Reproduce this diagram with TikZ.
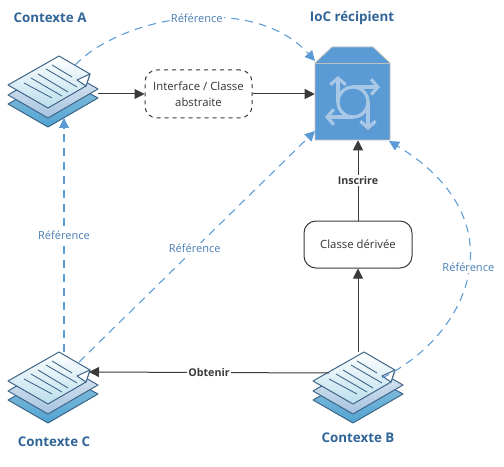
\documentclass[tikz,border=0pt]{standalone}
\usepackage{fontspec}
\setmainfont{Open Sans}
\usetikzlibrary{arrows.meta}
\definecolor{edgeblue}{HTML}{3F6588}
\definecolor{refblue}{HTML}{5B9BD5}
\definecolor{darkline}{HTML}{3A3A3A}
\definecolor{titleblue}{HTML}{2F6496}
\definecolor{reftext}{HTML}{4A7FB5}
\definecolor{iconlight}{HTML}{A9C8E6}
\definecolor{lowA}{HTML}{93C4E0}
\definecolor{lowB}{HTML}{4FA3D1}
\definecolor{midA}{HTML}{E6EEF6}
\definecolor{midB}{HTML}{A6C3DF}
\definecolor{topB}{HTML}{BBDFEC}
\tikzset{
  solidarrow/.style={draw=darkline,line width=0.75pt,-{Triangle[length=7.5pt,width=7.5pt]}},
  refarrow/.style={draw=refblue,line width=0.8pt,dash pattern=on 6pt off 4.5pt,-{Triangle[length=7.5pt,width=7.5pt]}},
  reflabel/.style={font=\fontsize{8.3pt}{10pt}\selectfont,text=reftext,fill=white,inner sep=1pt},
  boldlabel/.style={font=\bfseries\fontsize{8pt}{10pt}\selectfont,text=darkline,fill=white,inner sep=1pt},
  titlelabel/.style={font=\bfseries\fontsize{10pt}{12pt}\selectfont,text=titleblue},
  boxtext/.style={font=\fontsize{8.5pt}{12pt}\selectfont,text=black!80,align=center},
  sheet/.style={draw=edgeblue,line width=0.75pt,line join=round},
  iconline/.style={draw=iconlight,line width=2.4pt,-{Straight Barb[length=5pt,width=11.5pt,line width=2.4pt]}},
  docstack/.pic={
    \path[sheet,top color=lowA,bottom color=lowB]
      (8,104) -- (58,76) -- (98,98) -- (48,127) -- cycle;
    \path[sheet,top color=midA,bottom color=midB]
      (8,95) -- (58,66) -- (98,89) -- (48,118) -- cycle;
    \path[sheet,top color=white,bottom color=topB]
      (8,85) -- (59,56) -- (90,74) -- (86,86) -- (48,108) -- cycle;
    \path[sheet,fill=white] (77,80) -- (90,74) -- (86,86) -- cycle;
    \foreach \a/\b in {{52,65}/{72,77},{46,69}/{77,87},{38,74}/{68,92},{31,78}/{62,96},{24,83}/{52,98}}
      \draw[edgeblue,line width=0.65pt] (\a) -- (\b);
  }
}
\begin{document}
\begin{tikzpicture}[x=0.75pt,y=-0.75pt]
\useasboundingbox (0,0) rectangle (504,467);

% titles
\node[titlelabel] (tA) at (50,18) {Contexte A};
\node[titlelabel] (tI) at (352,18) {IoC récipient};
\node[titlelabel] (tB) at (358,438) {Contexte B};
\node[titlelabel] (tC) at (54,442) {Contexte C};

% context stacks
\pic at (0,0) {docstack};
\pic at (0,296) {docstack};
\pic at (305,296) {docstack};
\coordinate (Ae) at (98,94);
\coordinate (As) at (64,118);
\coordinate (Ad) at (75,65);
\coordinate (Cn) at (64,352);
\coordinate (Cd) at (79,362);
\coordinate (Ce) at (89,372);
\coordinate (Bn) at (358,352);
\coordinate (Bw) at (329,373);
\coordinate (Bd) at (382,378);

% IoC container
\path[fill=refblue,draw=black!25,line width=0.6pt] (315,63) -- (332,47) -- (373,47) -- (390,63) -- (390,140) -- (315,140) -- cycle;
\draw[black!25,line width=0.6pt] (315,63) -- (390,63);
\node[minimum width=56.25pt,minimum height=69.75pt,inner sep=0pt] (ioc) at (352.5,93.5) {};
\draw[iconlight,line width=2.4pt] (353,102) circle[radius=15];
\draw[iconline] (338,102) -- (338,76);
\draw[iconline] (353,87) -- (380,87);
\draw[iconline] (368,102) -- (368,130);
\draw[iconline] (353,117) -- (325,117);

% boxes
\node[draw=darkline,dashed,rounded corners=9pt,line width=0.75pt,minimum width=80.25pt,minimum height=36pt,boxtext] (iface) at (198.5,94) {Interface / Classe\\abstraite};
\node[draw=darkline,rounded corners=9pt,line width=0.75pt,minimum width=81pt,minimum height=35.25pt,boxtext] (derived) at (358,244.5) {Classe dérivée};

% solid connectors
\draw[solidarrow] (Ae) -- (iface.west);
\draw[solidarrow] (iface.east) -- (iface.east -| ioc.west);
\draw[solidarrow] (Bn) -- (derived.south);
\draw[solidarrow] (derived.north) -- (ioc.south -| derived.north) node[boldlabel,midway] {Inscrire};
\draw[solidarrow] (Bw) -- (Ce) node[boldlabel,pos=0.5] (obt) {Obtenir};

% reference connectors
\coordinate (IA) at (315,61);
\coordinate (IC) at (315,131);
\coordinate (IB) at (389,141);
\draw[refarrow] (Ad) .. controls (125,14) and (255,-6) .. (IA) node[reflabel,pos=0.52] {Référence};
\draw[refarrow] (Cn) -- (As) node[reflabel,midway] {Référence};
\draw[refarrow] (Cd) -- (IC) node[reflabel,pos=0.49] {Référence};
\draw[refarrow] (Bd) .. controls (470,335) and (520,220) .. (IB) node[reflabel,pos=0.52] {Référence};
\end{tikzpicture}
\end{document}
